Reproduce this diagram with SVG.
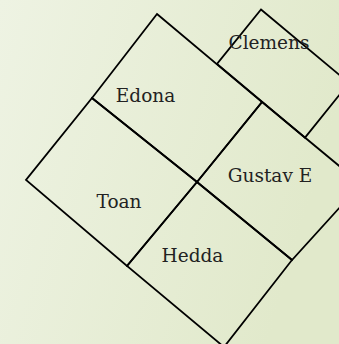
<svg xmlns="http://www.w3.org/2000/svg" width="339" height="344" viewBox="0 0 339 344">
  <defs>
    <linearGradient id="bg" x1="0" y1="0" x2="1" y2="0.3">
      <stop offset="0" stop-color="#eef3e3"/>
      <stop offset="1" stop-color="#e1e9cb"/>
    </linearGradient>
  </defs>
  <style>
    .cell { fill: none; stroke: #000; stroke-width: 1.8; stroke-linejoin: miter; }
    .lbl { font-family: "DejaVu Serif", "Liberation Serif", serif; font-size: 18.5px; fill: #222; text-anchor: middle; }
  </style>
  <rect x="0" y="0" width="339" height="344" fill="url(#bg)"/>
  <g id="node-clemens">
    <polygon class="cell" points="261,9.5 349,83 305,137.6 217,64"/>
    <text class="lbl" x="269" y="49">Clemens</text>
  </g>
  <g id="node-edona">
    <polygon class="cell" points="157,14 262,102 197,182 92,98"/>
    <text class="lbl" x="145.5" y="102">Edona</text>
  </g>
  <g id="node-gustav">
    <polygon class="cell" points="262,102 361,184 292,260 197,182"/>
    <text class="lbl" x="270" y="182">Gustav E</text>
  </g>
  <g id="node-toan">
    <polygon class="cell" points="92,98 197,182 127,266 26,180"/>
    <text class="lbl" x="119" y="208">Toan</text>
  </g>
  <g id="node-hedda">
    <polygon class="cell" points="197,182 292,260 224,347 127,266"/>
    <text class="lbl" x="192.5" y="262">Hedda</text>
  </g>
  <g id="connectors"/>
</svg>
